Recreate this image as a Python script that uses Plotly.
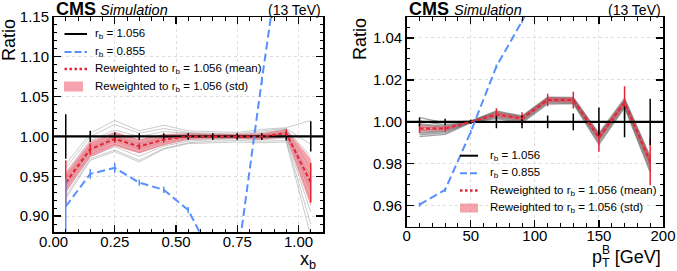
import plotly.graph_objects as go

W, H = 677, 271
FONT = "Liberation Sans, Arial, Helvetica, sans-serif"

# ---------------- left panel: x_b ----------------
xb_edges = [0.0, 0.1, 0.2, 0.3, 0.4, 0.5, 0.6, 0.7, 0.8, 0.9, 1.0, 1.1]
xb_nom = [1.0, 1.0, 1.0, 1.0, 1.0, 1.0, 1.0, 1.0, 1.0, 1.0, 1.0]
xb_nom_err = [0.028, 0.007, 0.005, 0.004, 0.004, 0.004, 0.004, 0.004, 0.004, 0.005, 0.019]
xb_alt = [0.912, 0.953, 0.9605, 0.942, 0.933, 0.9075, 0.848, 0.843, 1.07, 1.30, 1.50]
xb_alt_err = [0.035, 0.006, 0.006, 0.004, 0.004, 0.004, 0.004, 0.004, 0.005, 0.006, 0.02]
xb_mean = [0.942, 0.984, 0.997, 0.9875, 0.996, 1.000, 1.000, 1.000, 1.000, 1.004, 0.942]
xb_mean_err = [0.028, 0.007, 0.005, 0.004, 0.004, 0.004, 0.004, 0.004, 0.004, 0.005, 0.025]
xb_std = [0.012, 0.010, 0.009, 0.009, 0.007, 0.004, 0.003, 0.003, 0.004, 0.005, 0.030]
xb_replicas = [
    [0.950, 0.990, 1.004, 0.995, 1.002, 1.003, 1.002, 1.001, 1.003, 1.008, 0.960],
    [0.935, 0.978, 0.990, 0.980, 0.990, 0.996, 0.997, 0.998, 0.997, 1.000, 0.920],
    [0.945, 0.988, 1.000, 0.992, 0.999, 1.001, 1.001, 1.000, 1.002, 1.006, 0.950],
    [0.960, 1.000, 1.015, 1.004, 1.010, 1.005, 1.004, 1.003, 1.007, 1.010, 0.990],
    [0.925, 0.972, 0.983, 0.970, 0.985, 0.992, 0.994, 0.995, 0.994, 0.995, 0.890],
    [0.940, 0.983, 0.996, 0.986, 0.996, 1.000, 1.000, 1.000, 1.000, 1.004, 0.945],
    [0.955, 0.995, 1.008, 1.000, 1.006, 1.004, 1.003, 1.002, 1.005, 1.009, 0.975],
    [0.930, 0.975, 0.987, 0.975, 0.988, 0.994, 0.996, 0.997, 0.996, 0.998, 0.905],
    [0.965, 1.004, 1.020, 1.007, 1.014, 1.007, 1.006, 1.005, 1.009, 1.011, 1.020],
    [0.922, 0.970, 0.981, 0.968, 0.984, 0.991, 0.992, 0.993, 0.992, 0.993, 0.875],
    [0.948, 0.986, 0.999, 0.990, 0.998, 1.002, 1.001, 1.001, 1.001, 1.005, 0.935],
    [0.938, 0.981, 0.994, 0.984, 0.993, 0.998, 0.999, 0.999, 0.999, 1.003, 0.930],
]
xb_ticks = [0.0, 0.25, 0.5, 0.75, 1.0]
xb_ticklabels = ["0.00", "0.25", "0.50", "0.75", "1.00"]
xb_yticks = [0.90, 0.95, 1.00, 1.05, 1.10, 1.15]
xb_yticklabels = ["0.90", "0.95", "1.00", "1.05", "1.10", "1.15"]

# ---------------- right panel: pT ----------------
pt_edges = [0, 20, 40, 60, 80, 100, 120, 140, 160, 180, 200]
pt_nom = [1.0, 1.0, 1.0, 1.0, 1.0, 1.0, 1.0, 1.0, 1.0, 1.0]
pt_nom_err = [0.0021, 0.0015, 0.001, 0.003, 0.003, 0.003, 0.004, 0.0068, 0.0073, 0.011]
pt_alt = [0.9605, 0.9676, 0.9952, 1.0264, 1.048, 1.07, None, None, None, None]
pt_alt_err = [0.001, 0.001, 0.001, 0.001, 0.001, 0.001, 0.001, 0.001, 0.001, 0.001]
pt_mean = [0.9968, 0.9968, 1.000, 1.0035, 1.0016, 1.0104, 1.0104, 0.9925, 1.0092, 0.9808]
pt_mean_err = [0.0021, 0.0015, 0.001, 0.003, 0.003, 0.003, 0.004, 0.0068, 0.0078, 0.011]
pt_std = [0.0015, 0.001, 0.0002, 0.0012, 0.001, 0.0012, 0.0012, 0.0018, 0.0017, 0.0025]
pt_replicas = [
    [0.9990, 0.9980, 1.0002, 1.0045, 1.0022, 1.0112, 1.0110, 0.9935, 1.0100, 0.9820],
    [0.9945, 0.9955, 0.9998, 1.0025, 1.0005, 1.0095, 1.0095, 0.9910, 1.0080, 0.9785],
    [0.9975, 0.9970, 1.0000, 1.0038, 1.0018, 1.0106, 1.0106, 0.9928, 1.0094, 0.9812],
    [1.0020, 0.9995, 1.0004, 1.0052, 1.0028, 1.0118, 1.0117, 0.9945, 1.0112, 0.9835],
    [0.9930, 0.9940, 0.9996, 1.0015, 0.9995, 1.0085, 1.0087, 0.9892, 1.0068, 0.9760],
    [0.9960, 0.9965, 1.0000, 1.0033, 1.0014, 1.0102, 1.0102, 0.9920, 1.0089, 0.9803],
    [1.0005, 0.9985, 1.0003, 1.0048, 1.0025, 1.0114, 1.0113, 0.9940, 1.0105, 0.9828],
    [0.9950, 0.9958, 0.9999, 1.0028, 1.0009, 1.0098, 1.0098, 0.9915, 1.0084, 0.9795],
    [0.9985, 0.9975, 1.0001, 1.0041, 1.0020, 1.0109, 1.0108, 0.9931, 1.0097, 0.9815],
    [0.9938, 0.9948, 0.9997, 1.0020, 1.0000, 1.0090, 1.0091, 0.9900, 1.0074, 0.9770],
]
pt_ticks = [0, 50, 100, 150, 200]
pt_ticklabels = ["0", "50", "100", "150", "200"]
pt_yticks = [0.96, 0.98, 1.00, 1.02, 1.04]
pt_yticklabels = ["0.96", "0.98", "1.00", "1.02", "1.04"]

legend_labels = ["r<sub>b</sub> = 1.056", "r<sub>b</sub> = 0.855",
                 "Reweighted to r<sub>b</sub> = 1.056 (mean)",
                 "Reweighted to r<sub>b</sub> = 1.056 (std)"]

BLACK = "#000000"
BLUE = "#5790fc"
RED = "#e42536"
FILL = "rgba(236, 90, 105, 0.55)"


def centers(edges):
    return [(a + b) / 2 for a, b in zip(edges[:-1], edges[1:])]


fig = go.Figure()


def add_panel(edges, nom, nom_err, alt, alt_err, mean, mean_err, std, reps, xa, ya,
              grey, grey_w):
    c = centers(edges)
    for r in reps:
        fig.add_trace(go.Scatter(x=c, y=r, mode="lines", line=dict(color=grey, width=grey_w),
                                 showlegend=False, hoverinfo="skip", xaxis=xa, yaxis=ya))
    up = [m + s for m, s in zip(mean, std)]
    lo = [m - s for m, s in zip(mean, std)]
    fig.add_trace(go.Scatter(x=c + c[::-1], y=up + lo[::-1], fill="toself", fillcolor=FILL,
                             line=dict(width=0), mode="lines", showlegend=False,
                             hoverinfo="skip", xaxis=xa, yaxis=ya))
    # nominal as step histogram
    fig.add_trace(go.Scatter(x=edges, y=nom + [nom[-1]], mode="lines", line_shape="hv",
                             line=dict(color=BLACK, width=2.2), showlegend=False,
                             xaxis=xa, yaxis=ya))
    # reweighted mean uncertainties
    fig.add_trace(go.Scatter(x=c, y=mean, mode="markers", marker=dict(size=0.1, color=RED),
                             error_y=dict(type="data", array=mean_err, width=0, thickness=1.5,
                                          color=RED),
                             showlegend=False, xaxis=xa, yaxis=ya))
    # nominal uncertainties
    fig.add_trace(go.Scatter(x=c, y=nom, mode="markers", marker=dict(size=0.1, color=BLACK),
                             error_y=dict(type="data", array=nom_err, width=0, thickness=1.5,
                                          color=BLACK),
                             showlegend=False, xaxis=xa, yaxis=ya))
    # reweighted mean
    fig.add_trace(go.Scatter(x=c, y=mean, mode="lines",
                             line=dict(color=RED, width=2, dash="4px,2.5px"),
                             showlegend=False, xaxis=xa, yaxis=ya))
    # alternative rb
    fig.add_trace(go.Scatter(x=c, y=alt, mode="lines",
                             line=dict(color=BLUE, width=2, dash="8px,4px"),
                             error_y=dict(type="data", array=alt_err, width=0, thickness=1.5,
                                          color=BLUE),
                             connectgaps=False, showlegend=False, xaxis=xa, yaxis=ya))


add_panel(xb_edges, xb_nom, xb_nom_err, xb_alt, xb_alt_err, xb_mean, xb_mean_err, xb_std,
          xb_replicas, "x", "y", "rgba(110,110,110,0.45)", 0.8)
add_panel(pt_edges, pt_nom, pt_nom_err, pt_alt, pt_alt_err, pt_mean, pt_mean_err, pt_std,
          pt_replicas, "x2", "y2", "rgba(100,100,100,0.6)", 1.3)


def px(x):
    return x / W


def py(y):
    return 1 - y / H


def axis(domain, rng, tickvals, ticktext, minor_dtick, minor_tick0, standoff):
    return dict(domain=domain, range=rng, tickmode="array", tickvals=tickvals,
                ticktext=ticktext, ticks="inside", ticklen=7, tickwidth=1.2, tickcolor="black",
                showline=True, linecolor="black", linewidth=1.5, mirror="ticks",
                automargin=False, ticklabelstandoff=standoff, fixedrange=True,
                showgrid=True, gridcolor="#d4d4d4", griddash="3px,3px", gridwidth=0.8,
                zeroline=False, tickfont=dict(family=FONT, size=15, color="black"),
                minor=dict(dtick=minor_dtick, tick0=minor_tick0, ticks="inside", ticklen=3.5,
                           tickwidth=1, tickcolor="black", showgrid=False))


L_X = [px(53.5), px(323)]
L_Y = [py(232), py(17)]
R_X = [px(406.7), px(663)]
R_Y = [py(226.7), py(17)]

fig.update_layout(
    template="none",
    width=W, height=H, margin=dict(l=0, r=0, t=0, b=0, autoexpand=False),
    paper_bgcolor="white", plot_bgcolor="white", showlegend=False, hovermode=False,
    xaxis=axis(L_X, [0, 1.1], xb_ticks, xb_ticklabels, 0.05, 0, -5) | dict(anchor="y"),
    yaxis=axis(L_Y, [0.88, 1.15], xb_yticks, xb_yticklabels, 0.01, 0.9, 0) | dict(anchor="x"),
    xaxis2=axis(R_X, [0, 200], pt_ticks, pt_ticklabels, 10, 0, -5) | dict(anchor="y2"),
    yaxis2=axis(R_Y, [0.95, 1.05], pt_yticks, pt_yticklabels, 0.005, 0.95, 0) | dict(anchor="x2"),
)

ann = []
shapes = []


def text(x, y, s, size, xanchor="left", yanchor="middle", angle=0, **kw):
    ann.append(dict(x=px(x), y=py(y), xref="paper", yref="paper", text=s, showarrow=False,
                    xanchor=xanchor, yanchor=yanchor, textangle=angle,
                    font=dict(family=FONT, size=size, color="black"), **kw))


for (x0, xr, xs) in [(53.5, 323, 97.5), (406.7, 663, 451.5)]:
    text(x0 + 0.5, 9, "<b>CMS</b>", 18)
    text(xs, 10, "<i>Simulation</i>", 14.5)
    text(xr, 10, "(13 TeV)", 14, xanchor="right")

text(9, 40, "Ratio", 18, xanchor="center", yanchor="middle", angle=-90)
text(360, 39, "Ratio", 18, xanchor="center", yanchor="middle", angle=-90)
text(318, 260, "x<sub>b</sub>", 18, xanchor="right")
text(663, 258, "p<sub>T</sub> [GeV]", 18, xanchor="right")
text(606, 250, "B", 12, xanchor="center")


def legend(xs0, xs1, xt, rows, rect):
    styles = [dict(color=BLACK, width=2), dict(color=BLUE, width=2, dash="7px,3px"),
              dict(color=RED, width=2.5, dash="2.5px,2.5px")]
    for i, st in enumerate(styles):
        shapes.append(dict(type="line", xref="paper", yref="paper", x0=px(xs0), x1=px(xs1),
                           y0=py(rows[i]), y1=py(rows[i]), line=st))
    shapes.append(dict(type="rect", xref="paper", yref="paper", x0=px(rect[0]), x1=px(rect[1]),
                       y0=py(rect[2]), y1=py(rect[3]), fillcolor=FILL, line=dict(width=0)))
    for i, lab in enumerate(legend_labels):
        text(xt, rows[i], lab, 11.5)


legend(64.5, 87, 93, [34, 52, 69, 86.5], [64, 83, 81.5, 91.5])
legend(460, 478, 488, [155.7, 173.3, 190.5, 208], [460, 478, 203.5, 212.5])

fig.update_layout(annotations=ann, shapes=shapes)
fig.write_html("out.html", config={"displayModeBar": False, "staticPlot": True},
               post_script="document.body.style.margin='0';")
